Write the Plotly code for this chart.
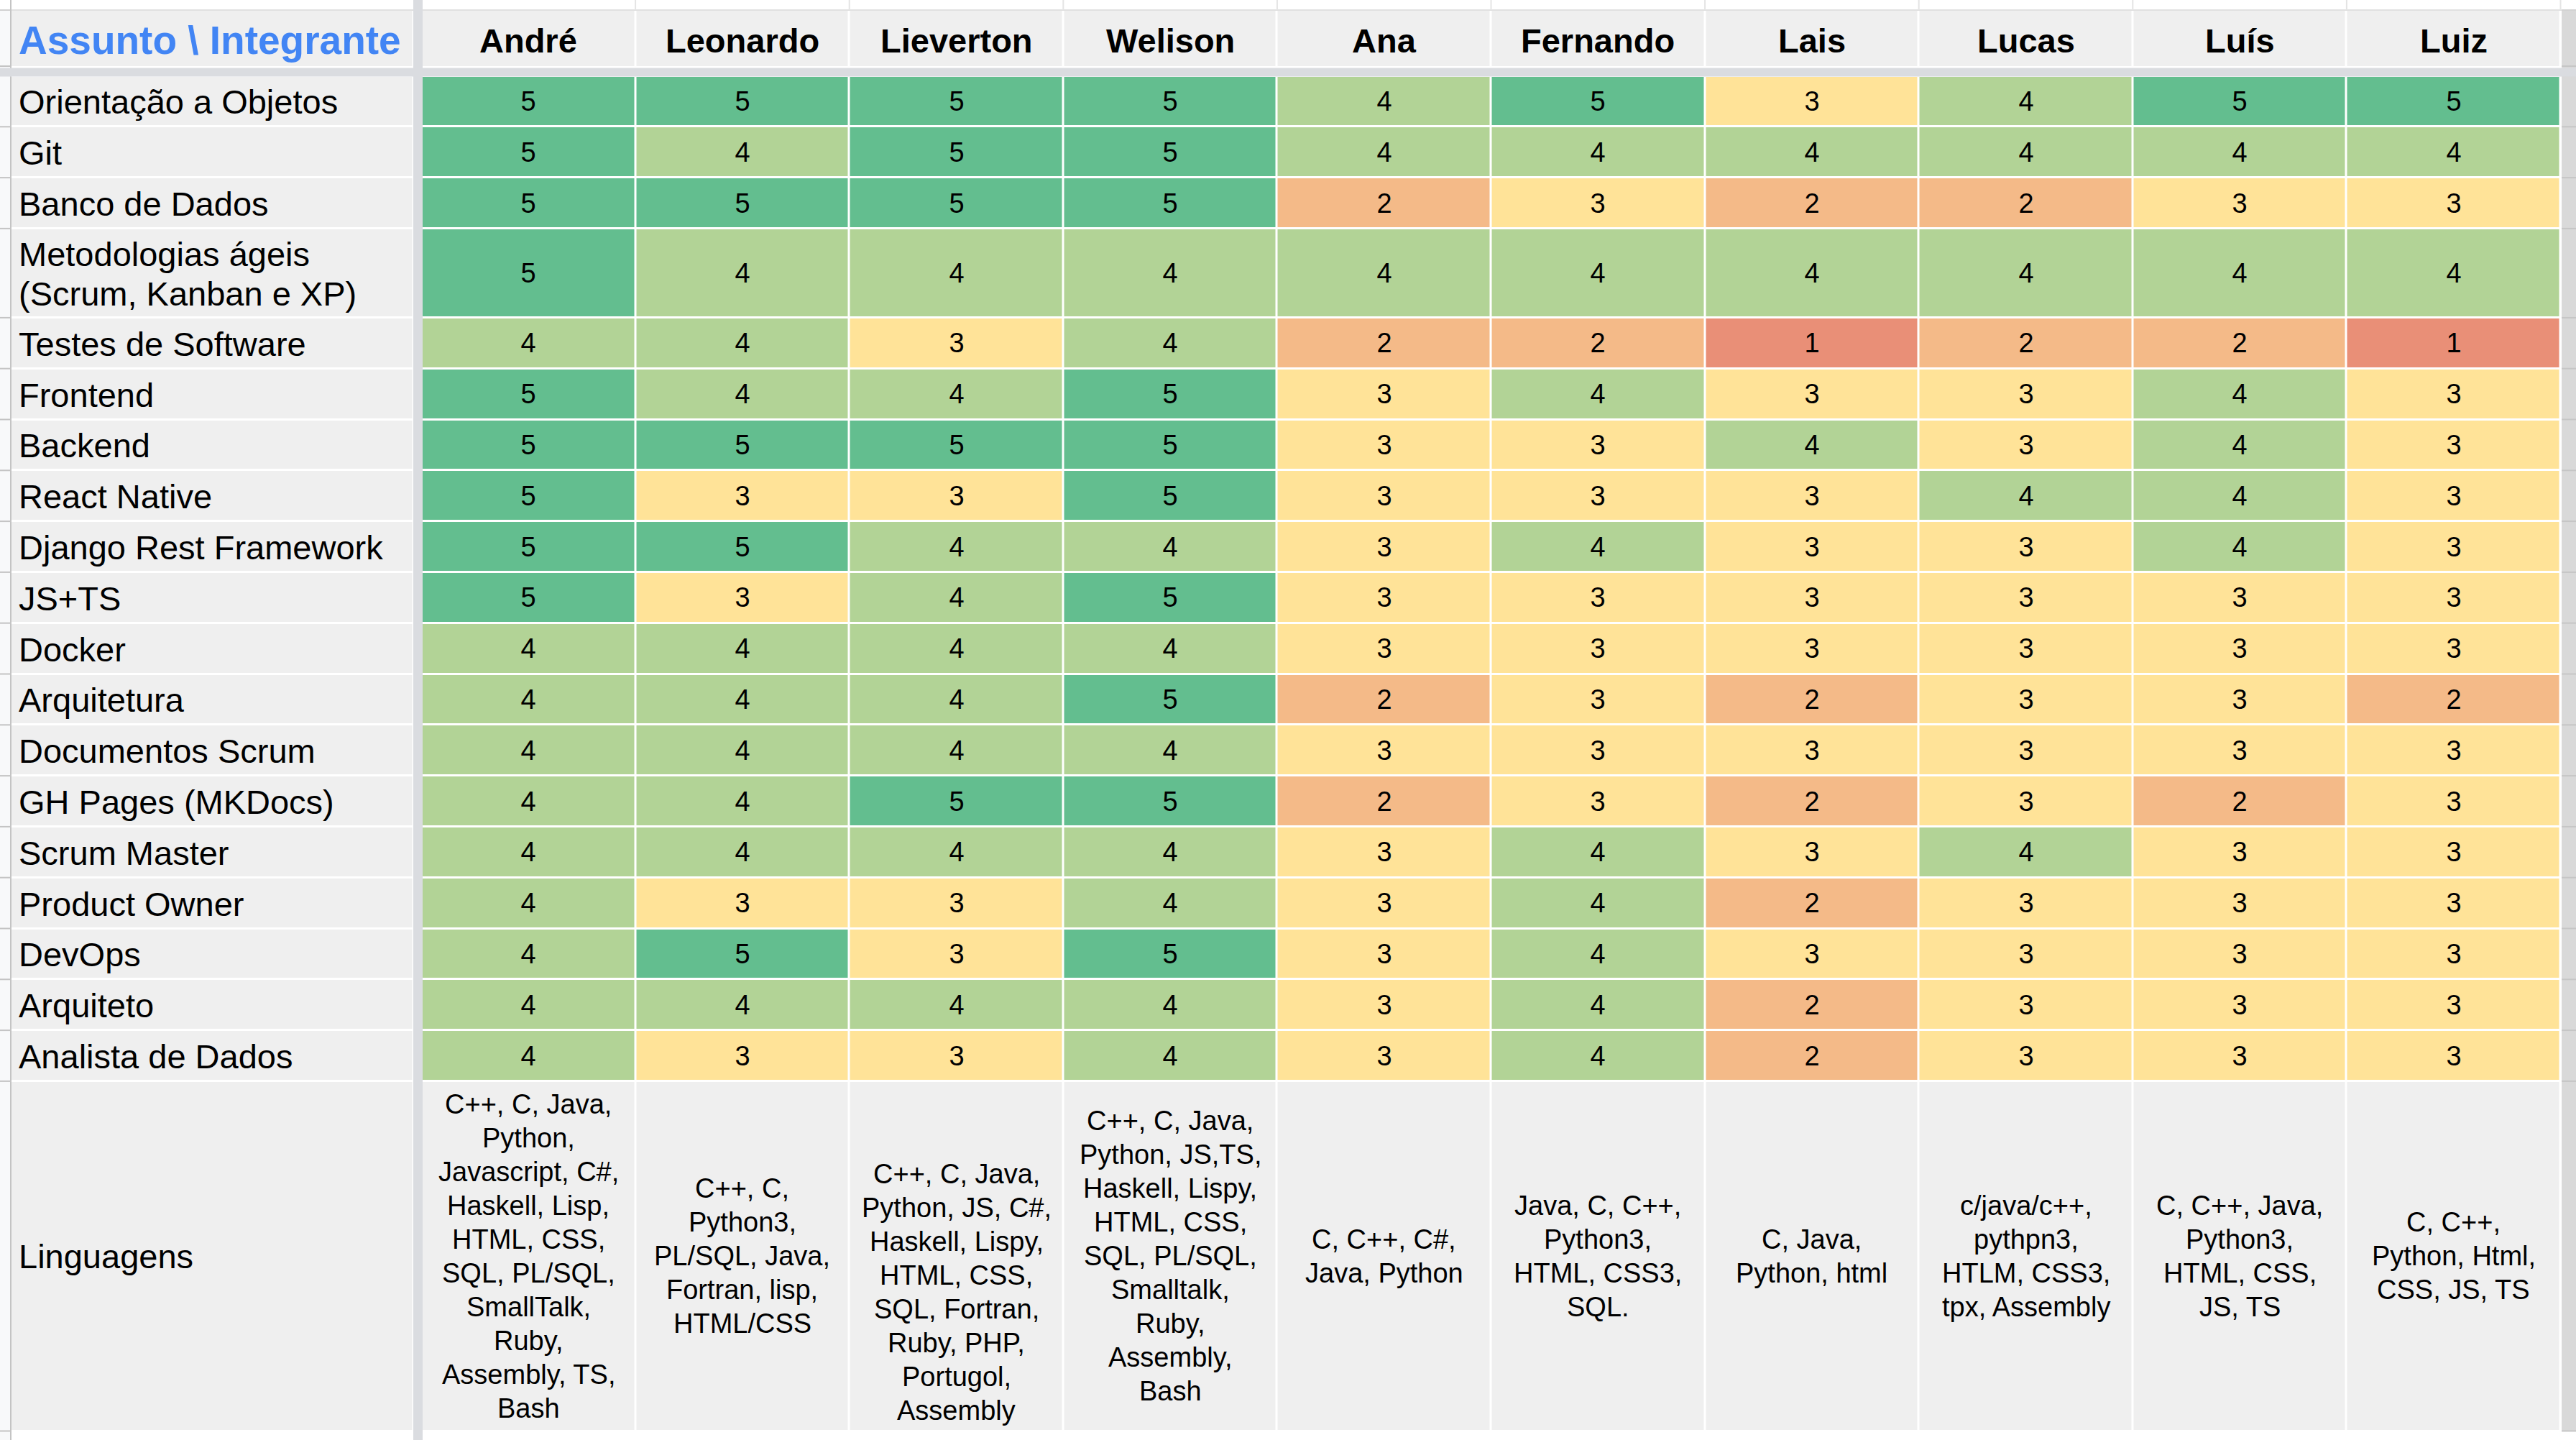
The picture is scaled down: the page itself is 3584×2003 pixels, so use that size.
import plotly.graph_objects as go

# ---------------- data ----------------
title_text = "Assunto \\ Integrante"
members = ["André", "Leonardo", "Lieverton", "Welison", "Ana", "Fernando",
           "Lais", "Lucas", "Luís", "Luiz"]
subjects = [
    ["Orientação a Objetos"],
    ["Git"],
    ["Banco de Dados"],
    ["Metodologias ágeis", "(Scrum, Kanban e XP)"],
    ["Testes de Software"],
    ["Frontend"],
    ["Backend"],
    ["React Native"],
    ["Django Rest Framework"],
    ["JS+TS"],
    ["Docker"],
    ["Arquitetura"],
    ["Documentos Scrum"],
    ["GH Pages (MKDocs)"],
    ["Scrum Master"],
    ["Product Owner"],
    ["DevOps"],
    ["Arquiteto"],
    ["Analista de Dados"],
]
scores = [
    [5, 5, 5, 5, 4, 5, 3, 4, 5, 5],
    [5, 4, 5, 5, 4, 4, 4, 4, 4, 4],
    [5, 5, 5, 5, 2, 3, 2, 2, 3, 3],
    [5, 4, 4, 4, 4, 4, 4, 4, 4, 4],
    [4, 4, 3, 4, 2, 2, 1, 2, 2, 1],
    [5, 4, 4, 5, 3, 4, 3, 3, 4, 3],
    [5, 5, 5, 5, 3, 3, 4, 3, 4, 3],
    [5, 3, 3, 5, 3, 3, 3, 4, 4, 3],
    [5, 5, 4, 4, 3, 4, 3, 3, 4, 3],
    [5, 3, 4, 5, 3, 3, 3, 3, 3, 3],
    [4, 4, 4, 4, 3, 3, 3, 3, 3, 3],
    [4, 4, 4, 5, 2, 3, 2, 3, 3, 2],
    [4, 4, 4, 4, 3, 3, 3, 3, 3, 3],
    [4, 4, 5, 5, 2, 3, 2, 3, 2, 3],
    [4, 4, 4, 4, 3, 4, 3, 4, 3, 3],
    [4, 3, 3, 4, 3, 4, 2, 3, 3, 3],
    [4, 5, 3, 5, 3, 4, 3, 3, 3, 3],
    [4, 4, 4, 4, 3, 4, 2, 3, 3, 3],
    [4, 3, 3, 4, 3, 4, 2, 3, 3, 3],
]
lang_label = "Linguagens"
languages = [
    ["C++, C, Java,", "Python,", "Javascript, C#,", "Haskell, Lisp,", "HTML, CSS,",
     "SQL, PL/SQL,", "SmallTalk,", "Ruby,", "Assembly, TS,", "Bash"],
    ["C++, C,", "Python3,", "PL/SQL, Java,", "Fortran, lisp,", "HTML/CSS"],
    ["C++, C, Java,", "Python, JS, C#,", "Haskell, Lispy,", "HTML, CSS,", "SQL, Fortran,",
     "Ruby, PHP,", "Portugol,", "Assembly"],
    ["C++, C, Java,", "Python, JS,TS,", "Haskell, Lispy,", "HTML, CSS,", "SQL, PL/SQL,",
     "Smalltalk,", "Ruby,", "Assembly,", "Bash"],
    ["C, C++, C#,", "Java, Python"],
    ["Java, C, C++,", "Python3,", "HTML, CSS3,", "SQL."],
    ["C, Java,", "Python, html"],
    ["c/java/c++,", "pythpn3,", "HTLM, CSS3,", "tpx, Assembly"],
    ["C, C++, Java,", "Python3,", "HTML, CSS,", "JS, TS"],
    ["C, C++,", "Python, Html,", "CSS, JS, TS"],
]

# ---------------- style / layout ----------------
W, H = 3584, 2003
FONT = "Liberation Sans, Arial, sans-serif"
GREY = "#efefef"
DIV = "#dadce0"
score_colors = ["#e98f77", "#f4ba88", "#ffe398", "#b2d396", "#63be8f"]
lang_valign = ["middle", "middle", "bottom", "middle", "middle",
               "middle", "middle", "middle", "middle", "middle"]

top_band = 14
header_end = 93.5
data_start = 105.5
row_h = 70.8
tall_row_h = 124
lang_end = 1990.5
label_x0, label_x1 = 14.5, 575.5
data_x0 = 586.5
col_w = 297.6
line_pitch = 47
text_left = 24

# x edges: label col, divider col, member cols
x_edges = [label_x0, label_x1, data_x0] + [data_x0 + col_w * (i + 1) for i in range(len(members))]
# y edges: header, divider, subject rows, languages row
row_heights = [tall_row_h if len(s) > 1 else row_h for s in subjects]
y_edges = [top_band, header_end, data_start]
for h in row_heights:
    y_edges.append(y_edges[-1] + h)
y_edges.append(lang_end)

ncols = len(members)
z = []
txt = []
z.append([0, None] + [0] * ncols)
txt.append([""] * (ncols + 2))
z.append([None] * (ncols + 2))
txt.append([""] * (ncols + 2))
for r in scores:
    z.append([0, None] + list(r))
    txt.append(["", ""] + [str(v) for v in r])
z.append([0, None] + [0] * ncols)
txt.append([""] * (ncols + 2))

# discrete colorscale: value v (0..5) -> v/5 ; 0 = grey cell
bounds = [0.0, 0.1, 0.3, 0.5, 0.7, 0.9, 1.0]
all_cols = [GREY] + score_colors
cs = []
for i, c in enumerate(all_cols):
    cs += [[bounds[i], c], [bounds[i + 1], c]]

fig = go.Figure()
fig.add_trace(go.Heatmap(
    x=x_edges, y=y_edges, z=z, text=txt, texttemplate="%{text}",
    textfont=dict(size=38, color="black", family=FONT),
    colorscale=cs, zmin=0, zmax=5, showscale=False,
    xgap=3, ygap=3, hoverinfo="skip",
))

shapes = []
# left row-number strip
shapes.append(dict(type="rect", x0=0, x1=14, y0=top_band, y1=H, fillcolor="#f8f9fa",
                   line=dict(width=0), layer="below"))
# right strip
shapes.append(dict(type="rect", x0=3564, x1=W, y0=top_band, y1=lang_end, fillcolor="#d9d9d9",
                   line=dict(width=0)))
# strip ticks at row boundaries
for yb in [top_band, header_end - 1.5] + y_edges[3:]:
    shapes.append(dict(type="line", x0=0, x1=15, y0=yb, y1=yb,
                       line=dict(color="#c4c4c4", width=2)))
    shapes.append(dict(type="line", x0=3564, x1=W, y0=yb, y1=yb,
                       line=dict(color="#c6c6c6", width=2)))
# top band line and column separators
shapes.append(dict(type="line", x0=0, x1=W, y0=top_band, y1=top_band,
                   line=dict(color="#d6d6d6", width=1.5)))
for xb in x_edges[3:]:
    shapes.append(dict(type="line", x0=xb, x1=xb, y0=0, y1=top_band,
                       line=dict(color="#e4e4e4", width=2)))
# left strip border
shapes.append(dict(type="line", x0=15, x1=15, y0=0, y1=H,
                   line=dict(color="#c4c4c4", width=2)))
# frozen dividers
shapes.append(dict(type="rect", x0=0, x1=W, y0=94.5, y1=106.5, fillcolor=DIV, line=dict(width=0)))
shapes.append(dict(type="rect", x0=575, x1=588, y0=0, y1=H, fillcolor=DIV, line=dict(width=0)))

annotations = []
ycen = lambda i: (y_edges[i] + y_edges[i + 1]) / 2
xcen = lambda j: (x_edges[j] + x_edges[j + 1]) / 2
# title cell
annotations.append(dict(x=text_left, y=ycen(0) + 2, text=f"<b>{title_text}</b>", xanchor="left",
                        yanchor="middle", font=dict(size=55, color="#4285f4", family=FONT)))
# member headers
for j, m in enumerate(members):
    annotations.append(dict(x=xcen(j + 2), y=ycen(0) + 3, text=f"<b>{m}</b>", xanchor="center",
                            yanchor="middle", font=dict(size=47, color="black", family=FONT)))
# subject labels
for i, s in enumerate(subjects):
    c = ycen(i + 2) + 1
    n = len(s)
    for k, line in enumerate(s):
        annotations.append(dict(x=text_left, y=c + (k - (n - 1) / 2) * 55, text=line,
                                xanchor="left", yanchor="middle",
                                font=dict(size=47, color="black", family=FONT)))
# languages row
li = len(y_edges) - 2
annotations.append(dict(x=text_left, y=ycen(li), text=lang_label, xanchor="left",
                        yanchor="middle", font=dict(size=47, color="black", family=FONT)))
for j, lines in enumerate(languages):
    n = len(lines)
    for k, line in enumerate(lines):
        if lang_valign[j] == "bottom":
            yy = y_edges[li + 1] - 29 - (n - 1 - k) * line_pitch
        else:
            yy = ycen(li) + (k - (n - 1) / 2) * line_pitch
        annotations.append(dict(x=xcen(j + 2), y=yy, text=line, xanchor="center",
                                yanchor="middle", font=dict(size=38, color="black", family=FONT)))

for a in annotations:
    a.update(xref="x", yref="y", showarrow=False)

fig.update_layout(
    width=W, height=H, margin=dict(l=0, r=0, t=0, b=0),
    paper_bgcolor="white", plot_bgcolor="white",
    xaxis=dict(range=[0, W], visible=False, fixedrange=True),
    yaxis=dict(range=[H, 0], visible=False, fixedrange=True),
    shapes=shapes, annotations=annotations, showlegend=False,
)
fig.write_html("out.html", config=dict(displayModeBar=False),
               post_script="document.body.style.margin='0';document.body.style.overflow='hidden';")
